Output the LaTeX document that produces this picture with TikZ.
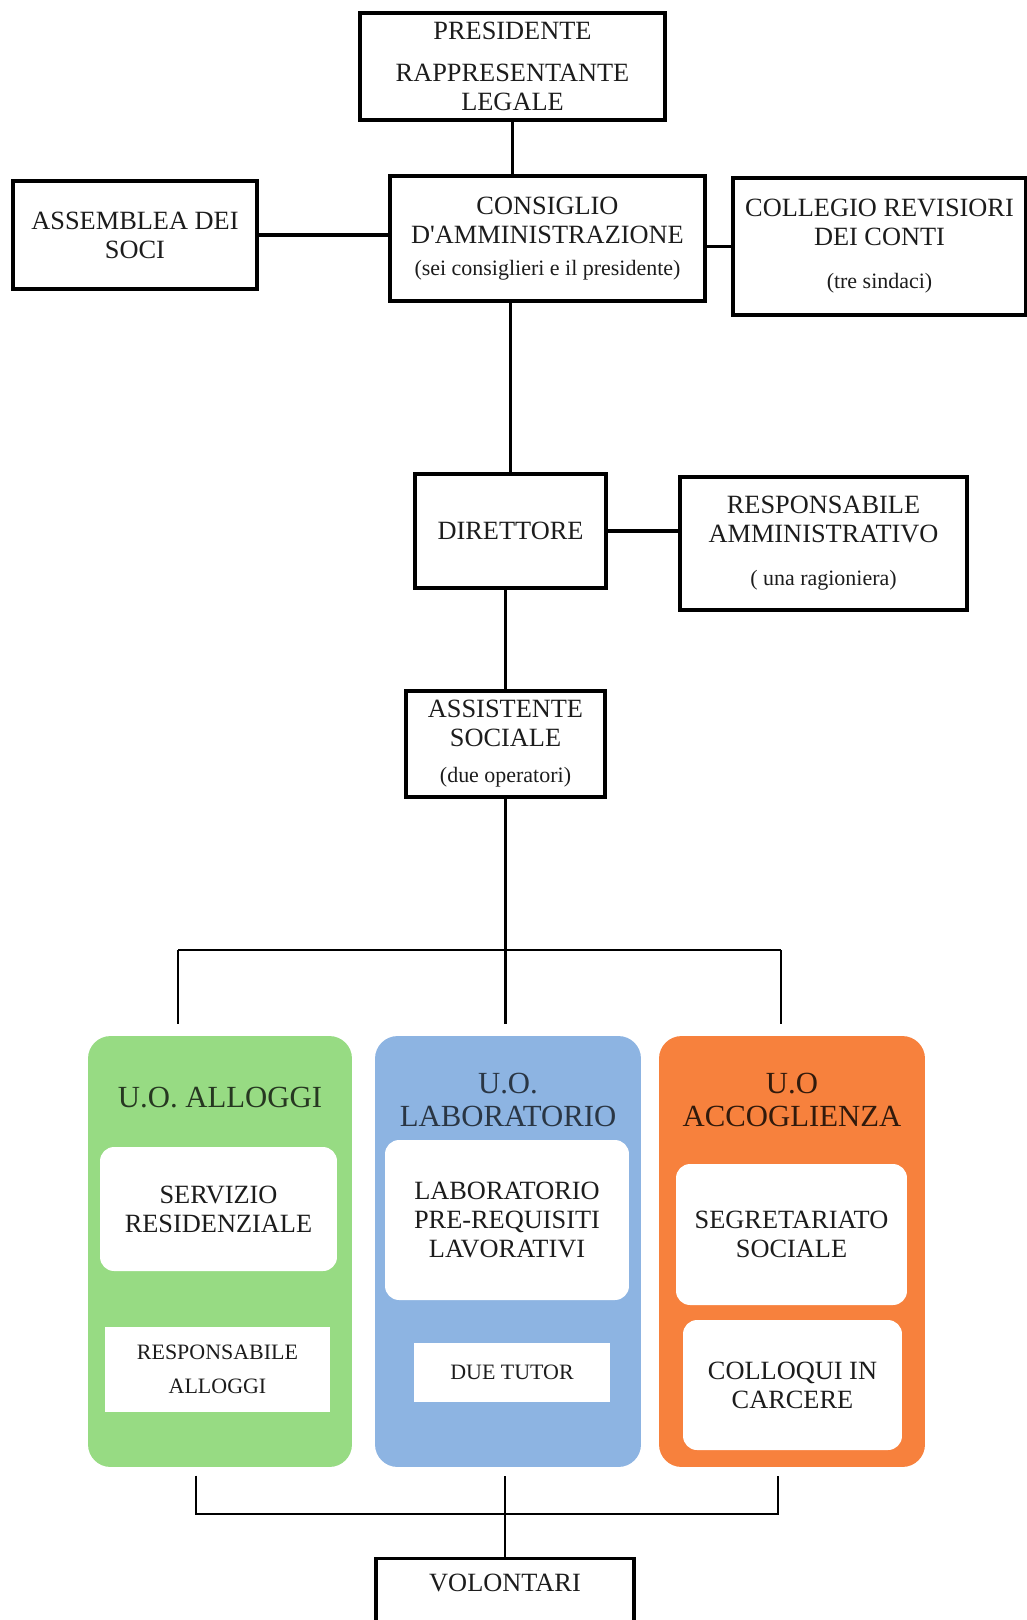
\documentclass[tikz,border=0pt]{standalone}
\usepackage{fontspec}
\setmainfont{Liberation Serif}
\definecolor{uogreen}{HTML}{97DB83}
\definecolor{uoblue}{HTML}{8DB4E2}
\definecolor{uoorange}{HTML}{F7813D}
\definecolor{ink}{HTML}{1C1C1C}
\newcommand{\txt}{\fontsize{15}{16.5}\selectfont}
\newcommand{\subtxt}{\fontsize{12.5}{15}\selectfont}
\newcommand{\titletxt}{\fontsize{17.5}{19}\selectfont}

\begin{document}
\begin{tikzpicture}[x=0.02cm, y=-0.02cm, line width=1.9pt,
  box/.style={draw, line width=1.9pt, align=center, text=ink, font=\txt, inner sep=2pt},
  panel/.style={fill=#1, rounded corners=0.45cm, minimum width=5.32cm, minimum height=8.62cm},
  card/.style={fill=white, rounded corners=0.28cm, align=center, text=ink, font=\txt},
  tag/.style={fill=white, align=center, text=ink, font=\subtxt},
  uotitle/.style={align=center, font=\titletxt, text=#1},
  link/.style={line width=1.3pt}]
  \useasboundingbox (0,0) rectangle (1027,1620);

  % vertice
  \node[box, minimum width=6.1cm, minimum height=2.14cm] (pres) at (512.5,66.5) {PRESIDENTE\\[7pt]RAPPRESENTANTE\\LEGALE};
  \node[box, minimum width=6.3cm, minimum height=2.5cm] (cda) at (547.5,238.5) {CONSIGLIO\\D\textquotesingle AMMINISTRAZIONE\\[2pt]{\subtxt (sei consiglieri e il presidente)}};
  \node[box, minimum width=4.88cm, minimum height=2.16cm] (ass) at (135,235) {ASSEMBLEA DEI\\SOCI};
  \node[box, minimum width=5.86cm, minimum height=2.74cm] (col) at (879.5,246.5) {COLLEGIO REVISIORI\\DEI CONTI\\[8pt]{\subtxt (tre sindaci)}};
  \node[box, minimum width=3.82cm, minimum height=2.28cm] (dir) at (510.5,531) {DIRETTORE};
  \node[box, minimum width=5.74cm, minimum height=2.66cm] (resp) at (823.5,543.5) {RESPONSABILE\\AMMINISTRATIVO\\[8pt]{\subtxt ( una ragioniera)}};
  \node[box, minimum width=3.98cm, minimum height=2.12cm] (asst) at (505.5,744) {ASSISTENTE\\SOCIALE\\[4pt]{\subtxt (due operatori)}};

  \draw (pres.south) -- (pres.south |- cda.north);
  \draw (ass.east) -- (ass.east -| cda.west);
  \draw (col.west) -- (col.west -| cda.east);
  \draw (dir.north) -- (dir.north |- cda.south);
  \draw (dir.east) -- (dir.east -| resp.west);
  \draw (asst.north) -- (asst.north |- dir.south);

  % unita' operative
  \node[panel=uogreen, minimum width=5.28cm] (alloggi) at (220,1251.5) {};
  \node[panel=uoblue] (lab) at (508,1251.5) {};
  \node[panel=uoorange] (acc) at (792,1251.5) {};
  \node[uotitle={uogreen!25!black}] (alloggiT) at (220,1098) {U.O. ALLOGGI};
  \node[uotitle={uoblue!30!black}] (labT) at (508,1100) {U.O.\\LABORATORIO};
  \node[uotitle={uoorange!20!black}] (accT) at (792,1100) {U.O\\ACCOGLIENZA};

  \node[card, minimum width=4.74cm, minimum height=2.48cm] (servizio) at (218.5,1209) {SERVIZIO\\RESIDENZIALE};
  \node[tag, minimum width=4.5cm, minimum height=1.7cm] (respAll) at (217.5,1369.5) {RESPONSABILE\\[4pt]ALLOGGI};
  \node[card, minimum width=4.88cm, minimum height=3.2cm] (labPre) at (507,1220) {LABORATORIO\\PRE-REQUISITI\\LAVORATIVI};
  \node[tag, minimum width=3.92cm, minimum height=1.18cm] (tutor) at (512,1372.5) {DUE TUTOR};
  \node[card, minimum width=4.62cm, minimum height=2.82cm] (segr) at (791.5,1234.5) {SEGRETARIATO\\SOCIALE};
  \node[card, minimum width=4.38cm, minimum height=2.6cm] (coll) at (792.5,1385) {COLLOQUI IN\\CARCERE};

  \coordinate (barL) at (178,950);
  \coordinate (barR) at (781,950);
  \draw[link, shorten >=0.2cm] (asst.south) -- (asst.south |- lab.north);
  \draw[link] (barL) -- (barR);
  \draw[link, shorten >=0.2cm] (barL) -- (barL |- alloggi.north);
  \draw[link, shorten >=0.2cm] (barR) -- (barR |- acc.north);

  % volontari
  \node[box, anchor=north, minimum width=5.16cm, inner ysep=0.3cm, text depth=1.6cm] (vol) at (505,1557) {VOLONTARI};
  \coordinate (botL) at (196,1514);
  \coordinate (botR) at (778,1514);
  \draw[link, shorten <=0.14cm, shorten >=0.14cm] (botL |- alloggi.south) -- (botL) -- (botR) -- (botR |- acc.south);
  \draw[link, shorten >=0.14cm] (vol.north) -- (vol.north |- lab.south);
\end{tikzpicture}
\end{document}
